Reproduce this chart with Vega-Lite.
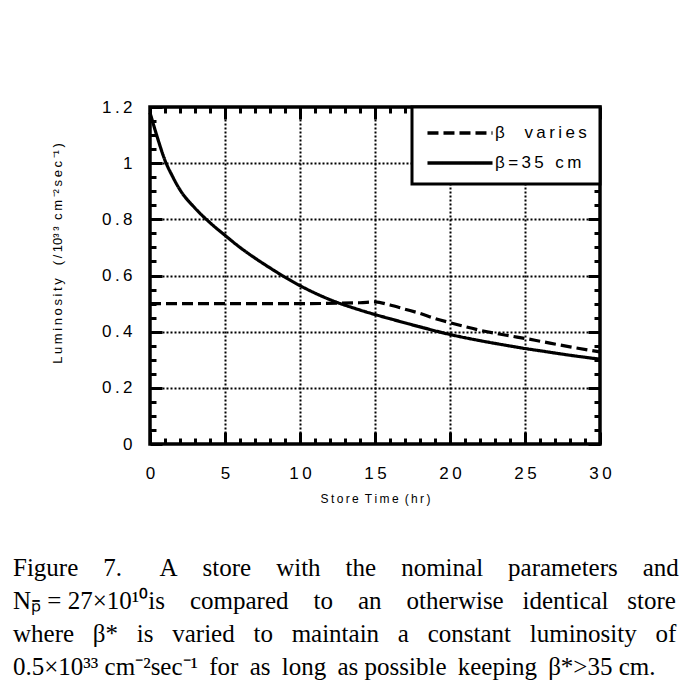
{
  "$schema": "https://vega.github.io/schema/vega-lite/v6.json",
  "width": 450,
  "height": 337,
  "autosize": {"type": "none"},
  "padding": {"left": 150, "top": 107, "right": 92, "bottom": 240},
  "background": "white",
  "config": {
    "view": {"stroke": "black", "strokeWidth": 3.5},
    "font": "Liberation Sans",
    "legend": {"strokeColor": "black", "strokeWidth": 3, "fillColor": "white", "padding": 13}
  },
  "title": {
    "text": [
      "Figure\u00a0\u00a0\u00a0\u00a07.\u00a0\u00a0\u00a0\u00a0\u00a0\u00a0A\u00a0\u00a0\u00a0\u00a0store\u00a0\u00a0\u00a0\u00a0with\u00a0\u00a0\u00a0\u00a0the\u00a0\u00a0\u00a0\u00a0nominal\u00a0\u00a0\u00a0\u00a0parameters\u00a0\u00a0\u00a0\u00a0and",
      "Nₚ̄ = 27×10¹⁰is\u00a0\u00a0\u00a0\u00a0compared\u00a0\u00a0\u00a0\u00a0to\u00a0\u00a0\u00a0\u00a0an\u00a0\u00a0\u00a0\u00a0otherwise\u00a0\u00a0\u00a0identical\u00a0\u00a0\u00a0store",
      "where\u00a0\u00a0\u00a0β*\u00a0\u00a0\u00a0is\u00a0\u00a0\u00a0varied\u00a0\u00a0\u00a0to\u00a0\u00a0\u00a0maintain\u00a0\u00a0\u00a0a\u00a0\u00a0\u00a0constant\u00a0\u00a0\u00a0luminosity\u00a0\u00a0\u00a0of",
      "0.5×10³³ cm⁻²sec⁻¹\u00a0\u2009for\u00a0\u2009as\u00a0\u2009long\u00a0\u2009as\u00a0possible\u00a0\u2009keeping\u00a0\u2009β*>35\u00a0cm."
    ],
    "orient": "bottom",
    "anchor": "start",
    "frame": "group",
    "dx": -137,
    "offset": 52,
    "baseline": "top",
    "font": "Liberation Serif",
    "fontSize": 25,
    "fontWeight": "normal",
    "lineHeight": 33,
    "color": "black"
  },
  "data": {
    "values": [
      {"t": 0, "L": 1.18, "series": "β=35 cm"},
      {"t": 0.5, "L": 1.09, "series": "β=35 cm"},
      {"t": 1, "L": 1.01, "series": "β=35 cm"},
      {"t": 1.5, "L": 0.953, "series": "β=35 cm"},
      {"t": 2, "L": 0.905, "series": "β=35 cm"},
      {"t": 3, "L": 0.84, "series": "β=35 cm"},
      {"t": 4, "L": 0.788, "series": "β=35 cm"},
      {"t": 5, "L": 0.743, "series": "β=35 cm"},
      {"t": 6, "L": 0.70, "series": "β=35 cm"},
      {"t": 7, "L": 0.662, "series": "β=35 cm"},
      {"t": 8, "L": 0.627, "series": "β=35 cm"},
      {"t": 9, "L": 0.594, "series": "β=35 cm"},
      {"t": 10, "L": 0.564, "series": "β=35 cm"},
      {"t": 12, "L": 0.514, "series": "β=35 cm"},
      {"t": 14, "L": 0.477, "series": "β=35 cm"},
      {"t": 15, "L": 0.461, "series": "β=35 cm"},
      {"t": 16, "L": 0.446, "series": "β=35 cm"},
      {"t": 18, "L": 0.417, "series": "β=35 cm"},
      {"t": 20, "L": 0.39, "series": "β=35 cm"},
      {"t": 22, "L": 0.368, "series": "β=35 cm"},
      {"t": 24, "L": 0.349, "series": "β=35 cm"},
      {"t": 25, "L": 0.34, "series": "β=35 cm"},
      {"t": 26, "L": 0.332, "series": "β=35 cm"},
      {"t": 28, "L": 0.316, "series": "β=35 cm"},
      {"t": 30, "L": 0.302, "series": "β=35 cm"},
      {"t": 0, "L": 0.5, "series": "β  varies"},
      {"t": 5, "L": 0.5, "series": "β  varies"},
      {"t": 10, "L": 0.5, "series": "β  varies"},
      {"t": 14, "L": 0.503, "series": "β  varies"},
      {"t": 15, "L": 0.506, "series": "β  varies"},
      {"t": 16, "L": 0.495, "series": "β  varies"},
      {"t": 17, "L": 0.48, "series": "β  varies"},
      {"t": 18, "L": 0.465, "series": "β  varies"},
      {"t": 19, "L": 0.447, "series": "β  varies"},
      {"t": 20, "L": 0.432, "series": "β  varies"},
      {"t": 22, "L": 0.405, "series": "β  varies"},
      {"t": 24, "L": 0.385, "series": "β  varies"},
      {"t": 25, "L": 0.376, "series": "β  varies"},
      {"t": 26, "L": 0.366, "series": "β  varies"},
      {"t": 28, "L": 0.346, "series": "β  varies"},
      {"t": 30, "L": 0.328, "series": "β  varies"}
    ]
  },
  "layer": [
    {
      "mark": {"type": "line", "color": "black", "strokeWidth": 3.2, "interpolate": "monotone"},
      "encoding": {
        "x": {
          "field": "t", "type": "quantitative",
          "scale": {"domain": [0, 30], "nice": false},
          "axis": {
            "orient": "bottom",
            "values": [0,1,2,3,4,5,6,7,8,9,10,11,12,13,14,15,16,17,18,19,20,21,22,23,24,25,26,27,28,29,30],
            "domain": false,
            "grid": true, "gridColor": "black", "gridWidth": 2, "gridDash": [2, 2],
            "gridOpacity": {"condition": {"test": "datum.value % 5 === 0 && datum.value > 0 && datum.value < 30", "value": 1}, "value": 0},
            "ticks": true, "tickColor": "black", "tickWidth": 3,
            "tickSize": {"condition": {"test": "datum.value % 5 === 0", "value": -12}, "value": -6},
            "labelExpr": "datum.value % 5 === 0 ? join(split(datum.label, ''), '\u2009') : ''",
            "labelFont": "Liberation Sans", "labelFontSize": 17, "labelColor": "black",
            "labelPadding": 33, "labelFlush": false, "labelOverlap": false, "labelBaseline": "top",
            "title": "S\u2009t\u2009o\u2009r\u2009e\u2002T\u2009i\u2009m\u2009e\u2002(\u2009h\u2009r\u2009)",
            "titleFont": "Liberation Sans", "titleFontSize": 12, "titleFontWeight": "normal", "titleColor": "black",
            "titlePadding": 6
          }
        },
        "y": {
          "field": "L", "type": "quantitative",
          "scale": {"domain": [0, 1.2], "nice": false, "zero": false},
          "axis": {
            "orient": "left",
            "values": [0,0.05,0.1,0.15,0.2,0.25,0.3,0.35,0.4,0.45,0.5,0.55,0.6,0.65,0.7,0.75,0.8,0.85,0.9,0.95,1,1.05,1.1,1.15,1.2],
            "domain": false,
            "grid": true, "gridColor": "black", "gridWidth": 2, "gridDash": [2, 2],
            "gridOpacity": {"condition": {"test": "round(datum.value * 100) % 20 === 0 && datum.value > 0.01 && datum.value < 1.19", "value": 1}, "value": 0},
            "ticks": true, "tickColor": "black", "tickWidth": 3,
            "tickSize": {"condition": {"test": "round(datum.value * 100) % 20 === 0", "value": -12}, "value": -6},
            "labelExpr": "round(datum.value * 100) % 20 === 0 ? join(split('' + round(datum.value * 10) / 10, ''), '\u2009') : ''",
            "labelFont": "Liberation Sans", "labelFontSize": 17, "labelColor": "black",
            "labelPadding": 30, "labelFlush": false, "labelOverlap": false,
            "title": "L\u2009u\u2009m\u2009i\u2009n\u2009o\u2009s\u2009i\u2009t\u2009y\u2002\u2002(\u2009/\u200910³\u2009³\u2002c\u2009m\u2009⁻²\u2009s\u2009e\u2009c\u2009⁻¹\u2009)",
            "titleFont": "Liberation Sans", "titleFontSize": 13, "titleFontWeight": "normal", "titleColor": "black",
            "titleX": -93, "titleY": 146, "titleBaseline": "middle", "titleAnchor": "middle"
          }
        },
        "strokeDash": {
          "field": "series", "type": "nominal",
          "scale": {"domain": ["β  varies", "β=35 cm"], "range": [[11, 5], [1, 0]]},
          "legend": {
            "orient": "top-right", "offset": 0, "title": null,
            "symbolType": "M-3,0L3,0", "symbolSize": 470, "symbolStrokeWidth": 3.5, "symbolStrokeColor": "black",
            "symbolOffset": 22,
            "labelExpr": "join(split(datum.label, ''), '\u2009')",
            "labelFont": "Liberation Sans", "labelFontSize": 17, "labelColor": "black", "labelOffset": 22,
            "rowPadding": 9
          }
        }
      }
    },
    {
      "mark": {"type": "line", "opacity": 0},
      "encoding": {
        "x": {
          "field": "t", "type": "quantitative",
          "axis": {
            "orient": "top",
            "values": [0,1,2,3,4,5,6,7,8,9,10,11,12,13,14,15,16,17,18,19,20,21,22,23,24,25,26,27,28,29,30],
            "domain": false, "grid": false, "labels": false, "title": null,
            "ticks": true, "tickColor": "black", "tickWidth": 3,
            "tickSize": {"condition": {"test": "datum.value % 5 === 0", "value": -12}, "value": -6}
          }
        },
        "y": {
          "field": "L", "type": "quantitative",
          "axis": {
            "orient": "right",
            "values": [0,0.05,0.1,0.15,0.2,0.25,0.3,0.35,0.4,0.45,0.5,0.55,0.6,0.65,0.7,0.75,0.8,0.85,0.9,0.95,1,1.05,1.1,1.15,1.2],
            "domain": false, "grid": false, "labels": false, "title": null,
            "ticks": true, "tickColor": "black", "tickWidth": 3,
            "tickSize": {"condition": {"test": "round(datum.value * 100) % 20 === 0", "value": -12}, "value": -6}
          }
        },
        "detail": {"field": "series", "type": "nominal"}
      }
    }
  ],
  "resolve": {"axis": {"x": "independent", "y": "independent"}}
}
